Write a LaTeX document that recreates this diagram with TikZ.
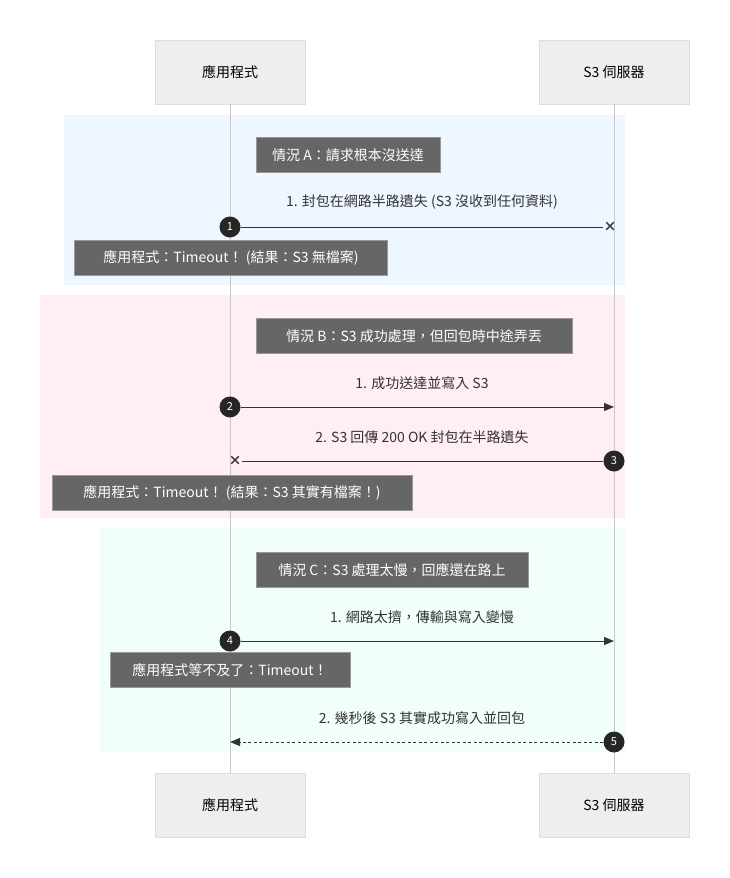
\documentclass[tikz,border=0pt]{standalone}
\usepackage{fontspec}
\setmainfont{Noto Sans CJK TC}
\usetikzlibrary{arrows.meta}
\definecolor{lane}{HTML}{C8C8C8}
\definecolor{actorbg}{HTML}{EEEEEE}
\definecolor{actorln}{HTML}{DDDDDD}
\definecolor{notebg}{HTML}{666666}
\definecolor{noteln}{HTML}{999999}
\definecolor{msg}{HTML}{333333}
\definecolor{secA}{HTML}{EEF6FF}
\definecolor{secB}{HTML}{FFEEF2}
\definecolor{secC}{HTML}{F2FFF8}
\tikzset{
  actor/.style={draw=actorln,fill=actorbg,minimum width=150pt,minimum height=64pt,font=\fontsize{14}{16}\selectfont,text=black},
  note/.style={draw=noteln,fill=notebg,text=white,minimum height=35pt,inner xsep=4pt,font=\fontsize{14}{16}\selectfont},
  label/.style={font=\fontsize{14}{16}\selectfont,text=msg},
  num/.style={circle,fill=black!85,text=white,inner sep=0pt,minimum size=21pt,font=\fontsize{11}{12}\selectfont},
  cross/.style={inner sep=0pt,font=\fontsize{13}{13}\selectfont\bfseries,text=msg},
  call/.style={draw=msg,line width=1pt,-{Triangle[length=10pt,width=8pt]}},
  lost/.style={draw=msg,line width=1pt},
}
\begin{document}
\begin{tikzpicture}[x=1pt,y=-1pt]
\useasboundingbox (0,0) rectangle (729,878);
% sections
\fill[secA] (64,115) rectangle (625,285);
\fill[secB] (40,295) rectangle (625,518);
\fill[secC] (100,528) rectangle (625,752);
% actors
\node[actor] (app) at (230,72) {應用程式};
\node[actor] (s3) at (614,72) {S3 伺服器};
\node[actor] (app2) at (230,805) {應用程式};
\node[actor] (s32) at (614,805) {S3 伺服器};
\draw[lane] (app) -- (app2);
\draw[lane] (s3) -- (s32);
% case A
\node[note,minimum width=184pt] (tA) at (348,155) {情況 A：請求根本沒送達};
\node[label] (m1) at (422,202) {1. 封包在網路半路遺失 (S3 沒收到任何資料)};
\node[num] (n1) at (230,227) {1};
\node[cross] (x1) at (610,227) {×};
\draw[lost] (n1) -- (x1.west);
\node[note,minimum width=313pt] (rA) at (231,258) {應用程式：Timeout！ (結果：S3 無檔案)};
% case B
\node[note,minimum width=316pt] (tB) at (414,336) {情況 B：S3 成功處理，但回包時中途弄丟};
\node[label] (m2) at (422,383) {1. 成功送達並寫入 S3};
\node[num] (n2) at (230,407) {2};
\coordinate (s3b) at (614,407);
\draw[call] (n2) -- (s3b);
\node[label] (m3) at (422,437) {2. S3 回傳 200 OK 封包在半路遺失};
\node[num] (n3) at (614,461) {3};
\node[cross] (x3) at (235,461) {×};
\draw[lost] (n3) -- (x3.east);
\node[note,minimum width=360pt] (rB) at (232,493) {應用程式：Timeout！ (結果：S3 其實有檔案！)};
% case C
\node[note,minimum width=272pt] (tC) at (392,570) {情況 C：S3 處理太慢，回應還在路上};
\node[label] (m4) at (422,617) {1. 網路太擠，傳輸與寫入變慢};
\node[num] (n4) at (230,641) {4};
\coordinate (s3c) at (614,641);
\draw[call] (n4) -- (s3c);
\node[note,minimum width=240pt] (rC) at (230,670) {應用程式等不及了：Timeout！};
\node[label] (m5) at (422,718) {2. 幾秒後 S3 其實成功寫入並回包};
\node[num] (n5) at (614,742) {5};
\coordinate (appc) at (230,742);
\draw[call,dash pattern=on 3pt off 2.5pt] (n5) -- (appc);
\end{tikzpicture}
\end{document}
